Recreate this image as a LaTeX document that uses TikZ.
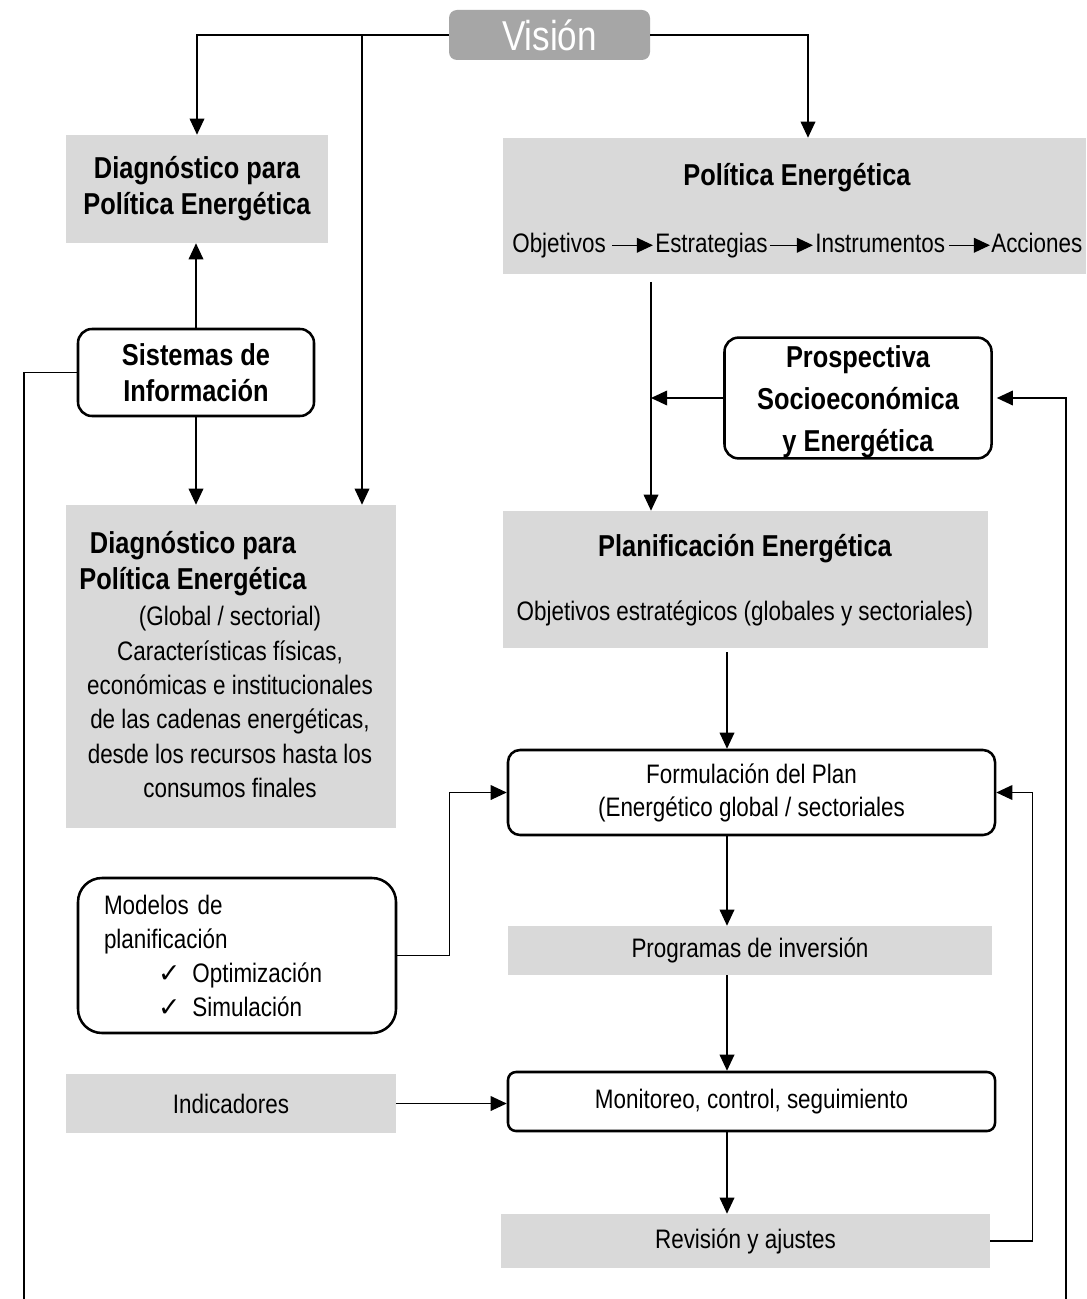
\documentclass[tikz,border=0pt]{standalone}
\usepackage{fontspec}
\setmainfont{Liberation Sans}[FakeStretch=0.84]
\newfontfamily\symfont{DejaVu Sans}
\usetikzlibrary{arrows.meta}

\newdimen\px \px=0.025cm
\definecolor{boxgray}{HTML}{D9D9D9}
\definecolor{visgray}{HTML}{A6A6A6}
\newcommand{\checkmk}{{\symfont\fontsize{19}{19}\selectfont ✓}}

\begin{document}
\begin{tikzpicture}[
  x=0.025cm, y=-0.025cm,
  every node/.style={font=\fontsize{19}{24.4}\selectfont, inner sep=0pt},
  headtext/.style={font=\bfseries\fontsize{21.5}{25.5}\selectfont},
  graybox/.style={rectangle, fill=boxgray},
  roundbox/.style={rectangle, draw, line width=1.8pt, rounded corners=0.35cm, fill=white},
  visbox/.style={rectangle, fill=visgray, rounded corners=0.2cm, text=white,
    font=\fontsize{29.7}{32}\selectfont},
  arr/.style={-{Triangle[length=11.5pt,width=10.5pt]}, line width=1pt},
  link/.style={line width=1pt},
]
  \fill[white] (0,0) rectangle (1086,1299);
  \useasboundingbox (0,0) rectangle (1086,1299);

  % top
  \node[visbox, minimum width=201\px, minimum height=50\px] (vision) at (549.5,35) {Visión};

  % left column
  \node[graybox, headtext, align=center, minimum width=262\px, minimum height=108\px] (diag1) at (197,189) {Diagnóstico para\\Política Energética};
  \node[roundbox, headtext, align=center, minimum width=236\px, minimum height=87\px] (sist) at (196,372.5) {Sistemas de\\Información};
  \node[graybox, minimum width=330\px, minimum height=323\px] (diag2) at (231,666.5) {};
  \node[headtext, align=center] (diag2title) at (193,564) {Diagnóstico para\\Política Energética};
  \node[align=center] (diag2text) at (230,702) {(Global / sectorial)\\Características físicas,\\económicas e institucionales\\de las cadenas energéticas,\\desde los recursos hasta los\\consumos finales};
  \node[roundbox, rounded corners=0.6cm, align=left, text width=266\px, inner xsep=26\px, minimum height=155\px, font=\fontsize{19}{34\px}\selectfont] (model) at (237,955.5)
    {Modelos de\\planificación\\\hspace*{54\px}\checkmk\hspace{12\px}Optimización\\\hspace*{54\px}\checkmk\hspace{12\px}Simulación};
  \node[graybox, minimum width=330\px, minimum height=59\px] (indic) at (231,1103.5) {Indicadores};

  % right column
  \node[graybox, minimum width=583\px, minimum height=136\px] (pol) at (794.5,206) {};
  \node[headtext] (poltitle) at (797,178) {Política Energética};
  \node[anchor=base west] (obj) at (512,253) {Objetivos};
  \node[anchor=base west] (estr) at (655,253) {Estrategias};
  \node[anchor=base west] (instr) at (815,253) {Instrumentos};
  \node[anchor=base west] (acc) at (991,253) {Acciones};
  \node[roundbox, headtext, align=center, font=\bfseries\fontsize{21.5}{30}\selectfont, minimum width=267\px, minimum height=120\px] (prosp) at (858,398) {\rule{0pt}{30\px}Prospectiva\\Socioeconómica\\y Energética};
  \node[graybox, minimum width=485\px, minimum height=137\px] (plan) at (745.5,579.5) {};
  \node[headtext] (plantitle) at (745,549) {Planificación Energética};
  \node (plantext) at (745,613) {Objetivos estratégicos (globales y sectoriales)};
  \node[roundbox, rounded corners=0.3cm, align=center, minimum width=487\px, minimum height=85\px, font=\fontsize{19}{33\px}\selectfont] (form) at (751.5,792.5) {Formulación del Plan\\(Energético global / sectoriales};
  \node[graybox, minimum width=484\px, minimum height=49\px] (prog) at (750,950.5) {Programas de inversión};
  \node[roundbox, rounded corners=0.2cm, minimum width=487\px, minimum height=59\px] (monit) at (751.5,1101.5) {Monitoreo, control, seguimiento};
  \node[graybox, minimum width=489\px, minimum height=54\px] (revis) at (745.5,1241) {Revisión y ajustes};

  % helper points
  \coordinate (branch) at (362,35);
  \coordinate (trunk) at (651,282);
  \coordinate (spine) at (727,0);
  \coordinate (leftend) at (24,1299);
  \coordinate (rightend) at (1066,1299);

  % connectors
  \draw[arr] (vision.west) -| (diag1.north);
  \draw[arr] (branch) -- (branch |- diag2.north);
  \draw[arr] (vision.east) -| ([xshift=13.5\px]pol.north);
  \draw[arr] (sist.north) -- (sist.north |- diag1.south);
  \draw[arr] (sist.south) -- (sist.south |- diag2.north);
  \draw[link] (sist.west) -| (leftend);

  \draw[arr] ([xshift=6\px,yshift=5.5pt]obj.base east) -- ([xshift=-2\px,yshift=5.5pt]obj.base east -| estr.west);
  \draw[arr] ([xshift=2\px,yshift=5.5pt]estr.base east) -- ([xshift=-2\px,yshift=5.5pt]estr.base east -| instr.west);
  \draw[arr] ([xshift=4\px,yshift=5.5pt]instr.base east) -- ([xshift=-1\px,yshift=5.5pt]instr.base east -| acc.west);

  \draw[arr] (trunk) -- (trunk |- plan.north);
  \draw[arr] (prosp.west) -- (prosp.west -| trunk);
  \draw[arr] (rightend) |- ([xshift=4\px]prosp.east);

  \draw[arr] ([yshift=-4\px]plan.south -| spine) -- (form.north -| spine);
  \draw[arr] (form.south -| spine) -- (prog.north -| spine);
  \draw[arr] (prog.south -| spine) -- (monit.north -| spine);
  \draw[arr] (monit.south -| spine) -- (revis.north -| spine);

  \draw[arr] (model.east) -- ++(52,0) |- (form.west);
  \draw[arr] (indic.east) -- (indic.east -| monit.west);
  \draw[arr] (revis.east) -- ++(42,0) |- (form.east);
\end{tikzpicture}
\end{document}
